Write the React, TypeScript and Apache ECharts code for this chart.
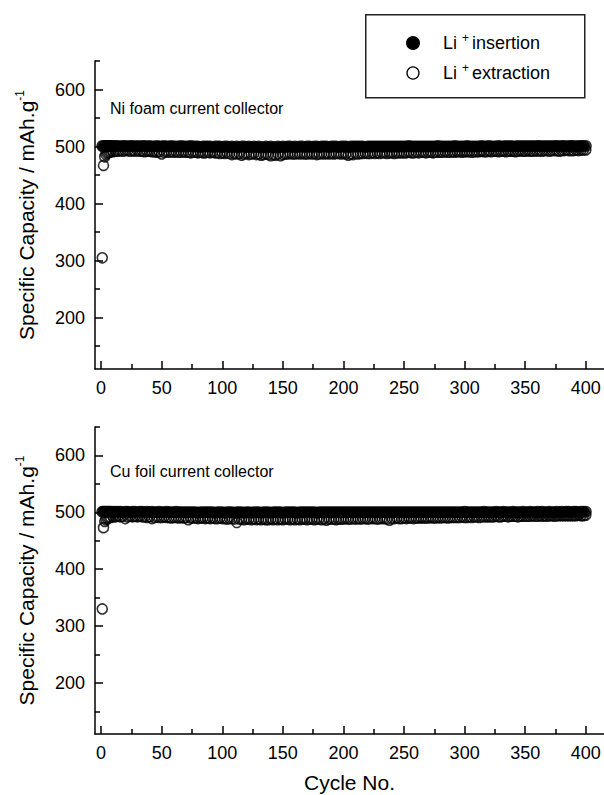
import React, { useEffect, useRef } from "react";
import * as echarts from "echarts";

const cycles = [
  1, 2, 3, 4, 5, 6, 7, 8,
  10, 12, 14, 16, 18, 20, 22, 24, 26, 28,
  30, 32, 34, 36, 38, 40, 42, 44, 46, 48,
  50, 52, 54, 56, 58, 60, 62, 64, 66, 68,
  70, 72, 74, 76, 78, 80, 82, 84, 86, 88,
  90, 92, 94, 96, 98, 100, 102, 104, 106, 108,
  110, 112, 114, 116, 118, 120, 122, 124, 126, 128,
  130, 132, 134, 136, 138, 140, 142, 144, 146, 148,
  150, 152, 154, 156, 158, 160, 162, 164, 166, 168,
  170, 172, 174, 176, 178, 180, 182, 184, 186, 188,
  190, 192, 194, 196, 198, 200, 202, 204, 206, 208,
  210, 212, 214, 216, 218, 220, 222, 224, 226, 228,
  230, 232, 234, 236, 238, 240, 242, 244, 246, 248,
  250, 252, 254, 256, 258, 260, 262, 264, 266, 268,
  270, 272, 274, 276, 278, 280, 282, 284, 286, 288,
  290, 292, 294, 296, 298, 300, 302, 304, 306, 308,
  310, 312, 314, 316, 318, 320, 322, 324, 326, 328,
  330, 332, 334, 336, 338, 340, 342, 344, 346, 348,
  350, 352, 354, 356, 358, 360, 362, 364, 366, 368,
  370, 372, 374, 376, 378, 380, 382, 384, 386, 388,
  390, 392, 394, 396, 398, 400,
];

const niInsertion = [
  501, 500, 501, 501, 501, 501, 501, 501,
  501, 501, 501, 500, 501, 501, 500, 501, 501, 500,
  501, 500, 501, 501, 500, 501, 500, 500, 501, 500,
  500, 501, 500, 500, 501, 500, 500, 500, 501, 500,
  500, 500, 501, 500, 500, 500, 499, 500, 500, 500,
  500, 499, 500, 500, 500, 499, 500, 500, 499, 500,
  499, 500, 499, 500, 500, 499, 500, 499, 500, 499,
  500, 499, 499, 500, 499, 500, 499, 499, 500, 499,
  500, 499, 500, 500, 499, 500, 499, 500, 500, 499,
  500, 500, 499, 500, 500, 499, 500, 500, 500, 499,
  500, 500, 500, 499, 500, 500, 500, 499, 500, 500,
  500, 500, 500, 500, 499, 500, 500, 500, 500, 500,
  500, 500, 500, 500, 500, 500, 500, 500, 500, 500,
  500, 500, 501, 500, 500, 500, 500, 500, 500, 500,
  500, 500, 500, 500, 501, 500, 500, 500, 500, 500,
  500, 501, 500, 500, 500, 500, 501, 500, 500, 500,
  500, 500, 501, 500, 500, 501, 500, 500, 500, 501,
  500, 500, 501, 500, 501, 500, 500, 501, 500, 501,
  500, 501, 500, 501, 500, 501, 501, 500, 501, 500,
  501, 500, 501, 501, 500, 501, 501, 500, 501, 501,
  501, 500, 501, 501, 501, 501,
];

const niExtraction = [
  305, 467, 482, 486, 488, 489, 490, 491,
  491, 492, 492, 493, 492, 493, 493, 492, 493, 492,
  493, 492, 492, 491, 492, 492, 491, 491, 490, 491,
  487, 490, 491, 490, 491, 490, 491, 490, 490, 491,
  490, 490, 489, 490, 490, 489, 490, 489, 489, 490,
  489, 490, 489, 489, 488, 489, 488, 489, 488, 486,
  488, 487, 488, 485, 487, 488, 486, 487, 488, 486,
  487, 485, 486, 487, 486, 484, 486, 485, 487, 484,
  486, 487, 487, 488, 487, 487, 488, 487, 488, 487,
  487, 488, 487, 488, 486, 487, 488, 487, 488, 487,
  488, 487, 488, 488, 487, 488, 487, 485, 487, 486,
  488, 487, 488, 488, 489, 488, 488, 489, 488, 489,
  488, 489, 489, 488, 489, 489, 488, 489, 489, 489,
  489, 489, 490, 489, 489, 490, 489, 490, 490, 489,
  490, 490, 489, 490, 490, 490, 490, 491, 490, 490,
  491, 490, 491, 491, 490, 491, 491, 491, 490, 491,
  491, 491, 492, 491, 491, 492, 491, 492, 492, 491,
  492, 492, 491, 492, 492, 492, 491, 492, 493, 492,
  492, 493, 492, 492, 493, 492, 493, 492, 493, 493,
  492, 493, 493, 493, 492, 493, 493, 494, 493, 493,
  493, 494, 493, 494, 494, 494,
];

const cuInsertion = [
  501, 501, 501, 501, 501, 501, 501, 501,
  501, 501, 501, 501, 500, 501, 501, 500, 501, 501,
  500, 501, 501, 500, 501, 500, 501, 500, 500, 501,
  500, 500, 501, 500, 500, 500, 501, 500, 500, 500,
  500, 500, 500, 500, 500, 499, 500, 500, 500, 500,
  500, 500, 499, 500, 500, 500, 499, 500, 500, 500,
  499, 500, 500, 500, 499, 500, 500, 499, 500, 500,
  500, 499, 500, 500, 500, 499, 500, 500, 500, 500,
  499, 500, 500, 500, 500, 500, 499, 500, 500, 500,
  500, 500, 500, 500, 499, 500, 500, 500, 500, 500,
  500, 500, 500, 500, 500, 500, 500, 500, 500, 500,
  500, 500, 500, 500, 500, 500, 500, 500, 500, 500,
  500, 500, 500, 500, 500, 500, 500, 500, 500, 500,
  500, 500, 500, 500, 500, 500, 500, 500, 500, 500,
  500, 500, 500, 500, 500, 500, 500, 500, 500, 500,
  500, 500, 500, 500, 500, 501, 500, 500, 500, 500,
  500, 500, 500, 501, 500, 500, 500, 500, 501, 500,
  500, 501, 500, 500, 500, 501, 500, 500, 500, 501,
  500, 500, 501, 500, 500, 501, 500, 501, 500, 500,
  501, 500, 500, 501, 500, 501, 500, 501, 501, 500,
  501, 501, 500, 501, 501, 501,
];

const cuExtraction = [
  330, 473, 484, 487, 489, 490, 491, 491,
  492, 492, 493, 492, 493, 489, 492, 493, 492, 493,
  492, 493, 492, 492, 491, 492, 489, 491, 492, 491,
  491, 492, 491, 491, 490, 491, 491, 490, 491, 490,
  491, 487, 490, 490, 490, 489, 490, 490, 489, 490,
  489, 490, 489, 489, 490, 489, 489, 488, 489, 489,
  488, 482, 488, 488, 487, 488, 488, 487, 488, 487,
  488, 487, 488, 487, 487, 488, 487, 488, 487, 488,
  487, 488, 488, 487, 488, 487, 488, 487, 488, 488,
  487, 488, 488, 487, 488, 488, 487, 488, 486, 488,
  488, 488, 487, 488, 488, 488, 489, 488, 488, 489,
  488, 489, 488, 489, 489, 488, 489, 489, 489, 488,
  489, 489, 489, 488, 486, 489, 489, 490, 489, 489,
  490, 489, 490, 490, 489, 490, 490, 490, 490, 490,
  490, 491, 490, 490, 491, 490, 491, 491, 490, 491,
  491, 491, 491, 491, 492, 491, 491, 492, 491, 492,
  492, 491, 492, 492, 492, 492, 492, 492, 493, 492,
  492, 493, 493, 492, 493, 493, 493, 492, 493, 493,
  493, 493, 493, 494, 493, 493, 494, 493, 494, 493,
  494, 494, 493, 494, 494, 494, 494, 494, 494, 494,
  494, 494, 495, 494, 494, 495,
];

const xMajorTicks = [0, 50, 100, 150, 200, 250, 300, 350, 400];
const xMinorTicks = [25, 75, 125, 175, 225, 275, 325, 375];
const yMajorTicks = [200, 300, 400, 500, 600];
const yMinorTicks = [150, 250, 350, 450, 550, 650];

const FONT = "Liberation Sans, Arial, Helvetica, sans-serif";
const X_MIN = -5;
const X_MAX = 415;
const Y_MIN = 110;
const Y_MAX = 650;

const pairs = (vals: number[]) => cycles.map((c, i) => [c, vals[i]]);

function buildOption() {
  const grids = [
    { left: 95, right: 0, top: 61, height: 308 },
    { left: 95, right: 0, top: 427, height: 307 },
  ];
  const xAxes: any[] = [];
  const yAxes: any[] = [];
  grids.forEach((_, g) => {
    xAxes.push({
      type: "value",
      gridIndex: g,
      min: X_MIN,
      max: X_MAX,
      position: "bottom",
      axisLine: { show: true, onZero: false, lineStyle: { color: "#000", width: 1.5 } },
      axisTick: { show: true, inside: true, length: 8, customValues: xMajorTicks, lineStyle: { color: "#000", width: 1.5 } },
      axisLabel: { show: true, customValues: xMajorTicks, color: "#000", fontSize: 18, fontFamily: FONT, margin: 10 },
      splitLine: { show: false },
      name: g === 1 ? "Cycle No." : "",
      nameLocation: "middle",
      nameGap: 38,
      nameTextStyle: { color: "#000", fontSize: 21, fontFamily: FONT },
    });
    xAxes.push({
      type: "value",
      gridIndex: g,
      min: X_MIN,
      max: X_MAX,
      position: "bottom",
      axisLine: { show: false, onZero: false },
      axisTick: { show: true, inside: true, length: 5, customValues: xMinorTicks, lineStyle: { color: "#000", width: 1.5 } },
      axisLabel: { show: false },
      splitLine: { show: false },
    });
    yAxes.push({
      type: "value",
      gridIndex: g,
      min: Y_MIN,
      max: Y_MAX,
      position: "left",
      axisLine: { show: true, onZero: false, lineStyle: { color: "#000", width: 1.5 } },
      axisTick: { show: true, inside: true, length: 8, customValues: yMajorTicks, lineStyle: { color: "#000", width: 1.5 } },
      axisLabel: { show: true, customValues: yMajorTicks, color: "#000", fontSize: 18, fontFamily: FONT, margin: 10 },
      splitLine: { show: false },
      name: "{a|Specific Capacity / mAh.g}{s|-1}",
      nameLocation: "middle",
      nameGap: 57,
      nameTextStyle: {
        color: "#000",
        fontFamily: FONT,
        rich: {
          a: { fontSize: 21, lineHeight: 24, fontFamily: FONT, color: "#000" },
          s: { fontSize: 12, lineHeight: 12, verticalAlign: "top", fontFamily: FONT, color: "#000" },
        },
      },
    });
    yAxes.push({
      type: "value",
      gridIndex: g,
      min: Y_MIN,
      max: Y_MAX,
      position: "left",
      axisLine: { show: false, onZero: false },
      axisTick: { show: true, inside: true, length: 5, customValues: yMinorTicks, lineStyle: { color: "#000", width: 1.5 } },
      axisLabel: { show: false },
      splitLine: { show: false },
    });
  });

  const openStyle = { color: "rgba(0,0,0,0)", borderColor: "#000", borderWidth: 1.6 };
  const fillStyle = { color: "#000", borderColor: "#000", borderWidth: 0 };
  const series = [
    { name: "Li+ extraction", type: "scatter", xAxisIndex: 0, yAxisIndex: 0, symbol: "circle", symbolSize: 10, itemStyle: openStyle, data: pairs(niExtraction), z: 2 },
    { name: "Li+ insertion", type: "scatter", xAxisIndex: 0, yAxisIndex: 0, symbol: "circle", symbolSize: 12, itemStyle: fillStyle, data: pairs(niInsertion), z: 3 },
    { name: "Li+ extraction", type: "scatter", xAxisIndex: 2, yAxisIndex: 2, symbol: "circle", symbolSize: 10, itemStyle: openStyle, data: pairs(cuExtraction), z: 2 },
    { name: "Li+ insertion", type: "scatter", xAxisIndex: 2, yAxisIndex: 2, symbol: "circle", symbolSize: 12, itemStyle: fillStyle, data: pairs(cuInsertion), z: 3 },
  ];

  const legendRich = {
    a: { fontSize: 18, fontFamily: FONT, fill: "#000", lineHeight: 22 },
    s: { fontSize: 12, fontFamily: FONT, fill: "#000", lineHeight: 12, verticalAlign: "top", padding: [0, 3, 0, 5] },
  };

  const graphic = [
    { type: "rect", left: 365, top: 14, shape: { width: 219, height: 83 }, style: { fill: "#fff", stroke: "#222", lineWidth: 1.5 }, z: 10 },
    { type: "circle", shape: { cx: 413, cy: 43, r: 7 }, style: { fill: "#000" }, z: 11 },
    { type: "circle", shape: { cx: 413, cy: 73, r: 6 }, style: { fill: "#fff", stroke: "#000", lineWidth: 1.3 }, z: 11 },
    { type: "text", x: 443, y: 43, style: { text: "{a|Li}{s|+}{a|insertion}", rich: legendRich, verticalAlign: "middle", align: "left" }, z: 11 },
    { type: "text", x: 443, y: 73, style: { text: "{a|Li}{s|+}{a|extraction}", rich: legendRich, verticalAlign: "middle", align: "left" }, z: 11 },
    { type: "text", x: 110, y: 108, style: { text: "Ni foam current collector", fontSize: 16, fontFamily: FONT, fill: "#000", verticalAlign: "middle", align: "left" }, z: 11 },
    { type: "text", x: 110, y: 471, style: { text: "Cu foil current collector", fontSize: 16, fontFamily: FONT, fill: "#000", verticalAlign: "middle", align: "left" }, z: 11 },
  ];

  return {
    animation: false,
    backgroundColor: "#fff",
    grid: grids,
    xAxis: xAxes,
    yAxis: yAxes,
    series,
    graphic,
  };
}

export default function App() {
  const ref = useRef<HTMLDivElement>(null);
  useEffect(() => {
    if (!ref.current) return;
    const chart = echarts.init(ref.current, null, { renderer: "svg" });
    chart.setOption(buildOption() as any);
    return () => {
      chart.dispose();
    };
  }, []);
  return (
    <div
      ref={ref}
      style={{ position: "absolute", left: 0, top: 0, width: 604, height: 795 }}
    />
  );
}
